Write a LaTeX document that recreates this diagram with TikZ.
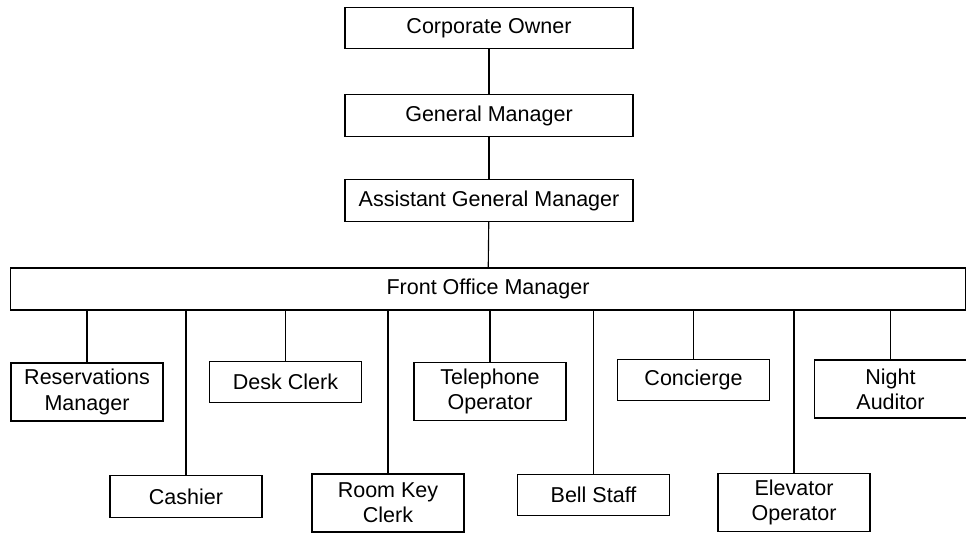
\documentclass[tikz,border=0pt]{standalone}
\usepackage{fontspec}
\setmainfont{Liberation Sans}
\usepackage{tikz}

\tikzset{
  box/.style={draw, line width=0.8pt, align=center, inner sep=0pt,
    font=\fontsize{15.3}{18}\selectfont},
  post/.style={box, minimum width=7.2cm, minimum height=1.03cm},
  staff/.style={box, minimum width=3.8cm, minimum height=1.03cm},
  staffii/.style={box, minimum width=3.8cm, minimum height=1.45cm},
  link/.style={line width=0.8pt}
}

\begin{document}
\begin{tikzpicture}[x=0.025cm, y=-0.025cm]
\useasboundingbox (0,0) rectangle (966,533);
\node[post] (owner) at (489,28) {Corporate Owner};
\node[post] (gm) at (489,115.5) {General Manager};
\node[post] (agm) at (489,200.5) {Assistant General Manager};
\node[box, minimum width=23.85cm, minimum height=1.05cm] (fom) at (488,289) {Front Office Manager};
% first row
\node[staffii] (res) at (87,392) {Reservations\\Manager};
\node[staff] (desk) at (285.5,382) {Desk Clerk};
\node[staffii] (tel) at (490,391.5) {Telephone\\Operator};
\node[staff] (conc) at (693.5,380) {Concierge};
\node[staffii] (night) at (890.5,389) {Night\\Auditor};
% second row
\node[staff] (cash) at (186,496.5) {Cashier};
\node[staffii] (room) at (388,503) {Room Key\\Clerk};
\node[staff] (bell) at (593.5,495) {Bell Staff};
\node[staffii] (elev) at (794,502.5) {Elevator\\Operator};
\draw[link] (owner) -- (gm);
\draw[link] (gm) -- (agm);
\draw[link] (agm) -- (fom);
\foreach \n in {res,desk,tel,conc,night,cash,room,bell,elev}
  \draw[link] (fom.south -| \n.north) -- (\n.north);
\end{tikzpicture}
\end{document}
